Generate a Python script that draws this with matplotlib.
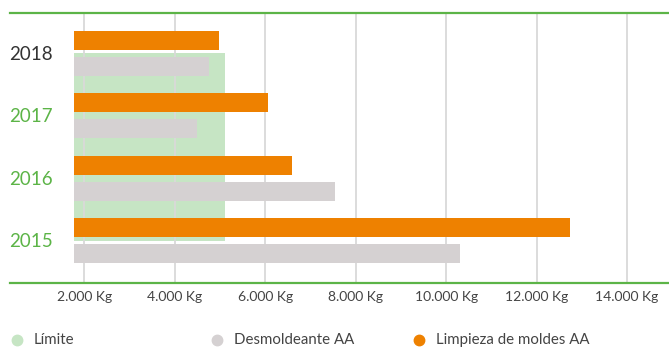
import matplotlib.pyplot as plt
from matplotlib.lines import Line2D
from matplotlib.transforms import blended_transform_factory

plt.rcParams['font.family'] = ['Lato', 'DejaVu Sans']

# Datos (kg por año)
years = ['2015', '2016', '2017', '2018']
year_colors = ['#5cb447', '#5cb447', '#5cb447', '#333333']
limpieza = [12750, 6600, 6050, 4980]
desmoldeante = [10300, 7550, 4500, 4750]
limite = 5100
ticks = [2000, 4000, 6000, 8000, 10000, 12000, 14000]
tick_labels = ['2.000 Kg', '4.000 Kg', '6.000 Kg', '8.000 Kg', '10.000 Kg', '12.000 Kg', '14.000 Kg']
legend_labels = ['Límite', 'Desmoldeante AA', 'Limpieza de moldes AA']

c_limite = '#c6e5c4'
c_desm = '#d5d1d2'
c_limp = '#ee8100'
c_green = '#5cb447'

W, H = 669, 347
fig = plt.figure(figsize=(W / 100, H / 100), dpi=100)
ax = fig.add_axes([74 / W, 1 - 283 / H, 1 - 74 / W, (283 - 13) / H])

y = list(range(len(years)))
ax.barh(1.5, limite, height=3, color=c_limite, zorder=1)
ax.barh([v + 0.205 for v in y], limpieza, height=0.30, color=c_limp, zorder=3)
ax.barh([v - 0.21 for v in y], desmoldeante, height=0.30, color=c_desm, zorder=3)

ax.set_xlim(1768, 14931)
ax.set_ylim(-0.68, 3.64)
ax.set_xticks(ticks)
ax.set_xticklabels(tick_labels, fontsize=10, color='#444444')
ax.tick_params(axis='x', length=0, pad=6)
ax.set_yticks([])
ax.grid(axis='x', color='#d9d9d9', linewidth=1.3, zorder=2)
ax.set_axisbelow(False)
for s in ax.spines.values():
    s.set_visible(False)

# lineas verdes superior e inferior
for yy in (13, 283):
    fig.add_artist(Line2D([10 / W, 1], [1 - yy / H, 1 - yy / H], color=c_green, linewidth=1.6))

# etiquetas de año
tr = blended_transform_factory(fig.transFigure, ax.transData)
for i, (yr, col) in enumerate(zip(years, year_colors)):
    fig.text(9 / W, i - 0.02, yr, transform=tr, fontsize=13.5, color=col, va='center', ha='left')

# leyenda
for x0, lab, col in zip([17, 217, 419], legend_labels, [c_limite, c_desm, c_limp]):
    fig.add_artist(Line2D([x0 / W], [1 - 340 / H], marker='o', markersize=7.5,
                          color=col, linestyle='none'))
    fig.text((x0 + 17) / W, 1 - 340 / H, lab, fontsize=10.8, color='#444444', va='center')

fig.savefig('out.png', dpi=100)
